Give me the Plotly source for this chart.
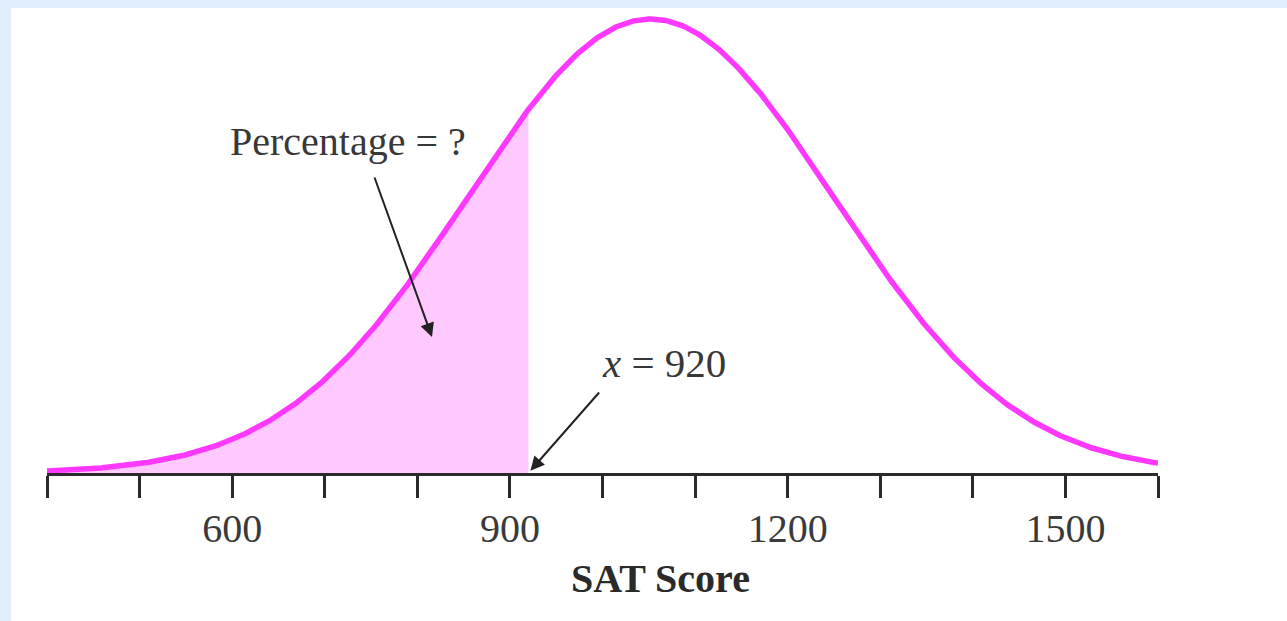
import numpy as np
import plotly.graph_objects as go

# Normal model for SAT scores
MEAN = 1052
SD = 198
CUTOFF = 920

# Axis ticks
tick_values = [400, 500, 600, 700, 800, 900, 1000, 1100, 1200, 1300, 1400, 1500, 1600]
tick_labels = ["", "", "600", "", "", "900", "", "", "1200", "", "", "1500", ""]

X_MIN, X_MAX = 400, 1600


def normal_pdf(x):
    return np.exp(-0.5 * ((x - MEAN) / SD) ** 2) / (SD * np.sqrt(2 * np.pi))


xs = np.linspace(X_MIN, X_MAX, 601)
pdf = normal_pdf(xs)
peak = normal_pdf(MEAN)

xs_fill = np.append(xs[xs <= CUTOFF], CUTOFF)
pdf_fill = normal_pdf(xs_fill)

LINE = "#ff38ff"
FILL = "#ffc8ff"
INK = "#2a2a2a"
TEXT = "#383838"
SERIF = "Liberation Serif"

fig = go.Figure()
fig.add_trace(go.Scatter(x=xs_fill, y=pdf_fill, mode="lines", fill="tozeroy",
                         fillcolor=FILL, line=dict(width=0, color=FILL),
                         hoverinfo="skip", showlegend=False))
fig.add_trace(go.Scatter(x=xs, y=pdf, mode="lines",
                         line=dict(color=LINE, width=5.5),
                         hoverinfo="skip", showlegend=False))

W, H = 1287, 621
ml, mr, mt, mb = 47, 129, 10, 148
pw, ph = W - ml - mr, H - mt - mb


def px_x(p):
    return (p - ml) / pw


def px_y(p):
    return (H - mb - p) / ph


# light blue frame strips along the top and left edges
fig.add_shape(type="rect", xref="paper", yref="paper",
              x0=px_x(0), x1=px_x(11), y0=px_y(H), y1=px_y(0),
              fillcolor="#e1eefd", line_width=0)
fig.add_shape(type="rect", xref="paper", yref="paper",
              x0=px_x(0), x1=px_x(W), y0=px_y(8), y1=px_y(0),
              fillcolor="#e1eefd", line_width=0)

# labels and pointer arrows
fig.add_annotation(xref="paper", yref="paper", x=px_x(348), y=px_y(141),
                   xanchor="center", yanchor="middle",
                   text="Percentage = ?", showarrow=False,
                   font=dict(family=SERIF, size=40, color=TEXT))
fig.add_annotation(xref="paper", yref="paper", x=px_x(432), y=px_y(337),
                   ax=374 - 432, ay=176 - 337, axref="pixel", ayref="pixel",
                   text="", showarrow=True, arrowhead=2, arrowsize=1.4,
                   arrowwidth=2, arrowcolor="#222222")
fig.add_annotation(xref="paper", yref="paper", x=px_x(664), y=px_y(363),
                   xanchor="center", yanchor="middle",
                   text="<i>x</i> = 920", showarrow=False,
                   font=dict(family=SERIF, size=41, color=TEXT))
fig.add_annotation(x=CUTOFF, y=0, xref="x", yref="y",
                   ax=604 - 532, ay=388 - 470, axref="pixel", ayref="pixel",
                   text="", showarrow=True, arrowhead=2, arrowsize=1.4,
                   arrowwidth=2, arrowcolor="#222222", standoff=3)
# axis caption
fig.add_annotation(xref="paper", yref="paper", x=px_x(660), y=px_y(578),
                   xanchor="center", yanchor="middle",
                   text="<b>SAT Score</b>", showarrow=False,
                   font=dict(family=SERIF, size=40, color=INK))

fig.update_layout(
    width=W, height=H, autosize=False,
    margin=dict(l=ml, r=mr, t=mt, b=mb),
    paper_bgcolor="white", plot_bgcolor="white",
    xaxis=dict(range=[X_MIN, X_MAX], tickmode="array", tickvals=tick_values,
               ticktext=tick_labels, showgrid=False, zeroline=False,
               showline=True, linecolor=INK, linewidth=3,
               ticks="outside", ticklen=22, tickwidth=3, tickcolor=INK,
               tickfont=dict(family=SERIF, size=40, color="#3a3a3a"),
               ticklabelstandoff=-4),
    yaxis=dict(range=[0, peak * (ph / 454)], visible=False),
)

fig.write_html("out.html")
